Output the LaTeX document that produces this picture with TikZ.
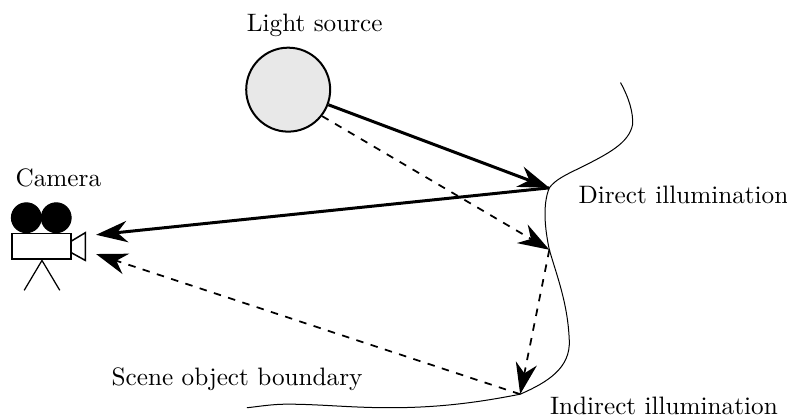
\documentclass[tikz,border=0pt]{standalone}
\usepackage{amsmath,amssymb}
\usetikzlibrary{positioning}
\usetikzlibrary{arrows.meta}
\tikzset{>={Stealth[length=4.4mm,width=3mm,inset=1.4mm]}}
\tikzset{direct ray/.style={->, line width=1.2pt}}
\tikzset{indirect ray/.style={->, line width=.7pt, dashed}}
\tikzset{label text/.style={inner sep=0pt, outer sep=0pt, anchor=west, scale=1.008}}

\begin{document}
\begin{tikzpicture}
\useasboundingbox (0, 0) rectangle (11.06, 5.86);
\clip (0, 0) rectangle (11.06, 5.86);
\node[draw, circle, line width=.8pt, fill=black!9, minimum size=1.18cm] (light) at (4.05, 4.6) {};
\node[label text] (lightlabel) at (3.47, 5.5) {Light source};
\node[label text] (cameralabel) at (.22, 3.36) {Camera};
\node[label text] (directlabel) at (8.13, 3.12) {Direct illumination};
\node[label text] (indirectlabel) at (7.73, .16) {Indirect illumination};
\node[label text] (scenelabel) at (1.57, .53) {Scene object boundary};
\coordinate (direct) at (7.72, 3.22);
\coordinate (indirect) at (7.72, 2.35);
\coordinate (bounce) at (7.31, .32);
\coordinate (camupper) at (1.35, 2.56);
\coordinate (camlower) at (1.35, 2.29);
% boundary
\draw[thin] (8.72, 4.7) .. controls (8.84, 4.48) and (8.9, 4.28) .. (8.89, 4.11)
  .. controls (8.84, 3.85) and (8.55, 3.7) .. (8.15, 3.5)
  .. controls (7.94, 3.4) and (7.8, 3.33) .. (direct)
  .. controls (7.62, 2.98) and (7.66, 2.63) .. (indirect)
  .. controls (7.82, 2) and (7.98, 1.6) .. (8, 1.08)
  .. controls (8.02, .69) and (7.7, .49) .. (bounce)
  .. controls (6.75, .21) and (6.19, .13) .. (5.48, .13)
  .. controls (4.92, .13) and (4.5, .18) .. (4.04, .18)
  .. controls (3.8, .18) and (3.59, .14) .. (3.47, .13);
% camera
\filldraw (.37, 2.8) circle (.21);
\filldraw (.79, 2.8) circle (.21);
\draw[line width=.6pt] (.17, 2.22) rectangle (1, 2.58);
\draw[line width=.6pt] (1, 2.47) -- (1.2, 2.59) -- (1.2, 2.2) -- (1, 2.31) -- cycle;
\draw[line width=.5pt] (.59, 2.2) -- (.34, 1.78);
\draw[line width=.5pt] (.59, 2.2) -- (.84, 1.78);
% rays
\draw[direct ray] (light) -- (direct);
\draw[direct ray] (direct) -- (camupper);
\draw[indirect ray] (light.-38) -- (indirect);
\draw[indirect ray] (indirect) -- (bounce);
\draw[indirect ray] (bounce) -- (camlower);
\end{tikzpicture}
\end{document}
